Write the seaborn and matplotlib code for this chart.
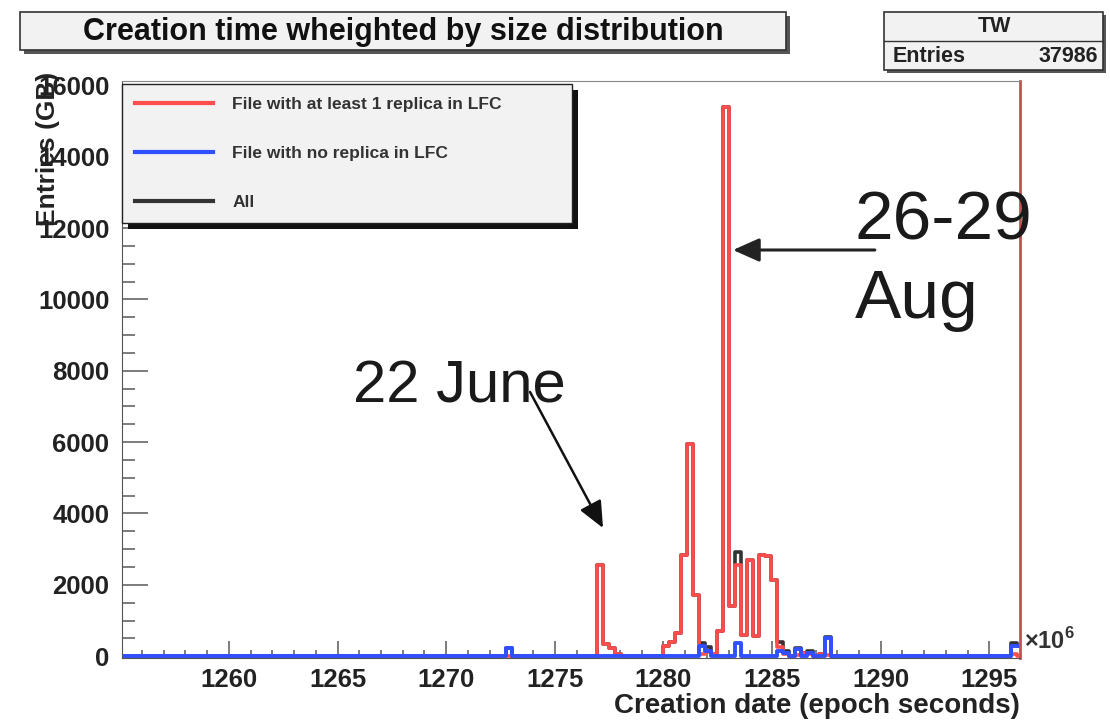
import numpy as np
import pandas as pd
import matplotlib
matplotlib.use('Agg')
import matplotlib.pyplot as plt
import seaborn as sns
from matplotlib.patches import Rectangle
from matplotlib.lines import Line2D

# creation date axis, units of 1e6 epoch seconds, fixed-width bins
x_lo, x_hi = 1255.08, 1296.41
n_bins = 150
bin_width = 0.2765

# size per bin (GB) for files with at least 1 replica in LFC, contiguous from red_start
red_start = 1276.95
red_gb = [2550, 330, 220, 60, 0, 0, 0, 0, 0, 0, 0, 300, 410, 640, 2830, 5960, 1715, 60, 120, 50,
          720, 15400, 1400, 2550, 600, 2700, 560, 2830, 2800, 2150, 250, 60, 0, 40, 80, 50, 0, 60, 40]
red_tail_dates = [1296.16]
red_tail_gb = [60]

# files with no replica in LFC
blue_dates = [1272.94, 1281.79, 1282.07, 1283.45, 1285.38, 1285.66, 1286.21, 1286.77, 1287.60, 1296.16, 1296.44]
blue_gb = [230, 300, 150, 360, 150, 100, 200, 100, 500, 300, 300]

labels = ['File with at least 1 replica in LFC', 'File with no replica in LFC', 'All']
colors = ['#ff4d4d', '#3050ff', '#333333']

red_dates = [red_start + (i + 0.5) * bin_width for i in range(len(red_gb))] + red_tail_dates
red_w = red_gb + red_tail_gb

red = pd.DataFrame({'date': red_dates, 'gb': red_w})
blue = pd.DataFrame({'date': blue_dates, 'gb': blue_gb})
both = pd.concat([red, blue], ignore_index=True)

bin_range = (x_lo, x_lo + n_bins * bin_width)

plt.rcParams['font.family'] = ['Liberation Sans', 'DejaVu Sans']
plt.rcParams['font.weight'] = 'bold'
plt.rcParams['mathtext.fontset'] = 'custom'
plt.rcParams['mathtext.rm'] = 'Liberation Sans:bold'

fig = plt.figure(figsize=(11.1, 7.2), dpi=100)
ax = fig.add_axes([0.1099, 0.0861, 0.8090, 0.8014])

sns.histplot(data=both, x='date', weights='gb', binwidth=bin_width, binrange=bin_range,
             element='step', fill=False, color=colors[2], linewidth=2.6, ax=ax)
sns.histplot(data=red, x='date', weights='gb', binwidth=bin_width, binrange=bin_range,
             element='step', fill=False, color=colors[0], linewidth=2.6, ax=ax)
sns.histplot(data=blue, x='date', weights='gb', binwidth=bin_width, binrange=bin_range,
             element='step', fill=False, color=colors[1], linewidth=2.8, ax=ax)

ax.set_xlim(x_lo, x_hi)
ax.set_ylim(-50, 16120)
ax.set_xlabel('')
ax.set_ylabel('')
ax.set_xticks(range(1260, 1296, 5))
ax.xaxis.set_minor_locator(plt.MultipleLocator(1))
ax.set_yticks(range(0, 16001, 2000))
ax.yaxis.set_minor_locator(plt.MultipleLocator(500))
ax.tick_params(axis='x', which='major', direction='in', length=12, width=1.2, color='#666',
               labelsize=18.5, pad=7)
ax.tick_params(axis='x', which='minor', direction='in', length=6, width=1.2, color='#666')
ax.tick_params(axis='y', which='major', direction='in', length=19, width=1.2, color='#666',
               labelsize=18.5, pad=9)
ax.tick_params(axis='y', which='minor', direction='in', length=9.5, width=1.2, color='#666')
for lbl in ax.get_xticklabels() + ax.get_yticklabels():
    lbl.set_fontweight('bold')
    lbl.set_color('#222')

ax.spines['top'].set_color('#888')
ax.spines['left'].set_color('#555')
ax.spines['right'].set_color('#c45050')
ax.spines['right'].set_linewidth(2)
ax.spines['bottom'].set_color('#555')

fig.text(0.9189, 0.019, 'Creation date (epoch seconds)', ha='right', va='center', fontsize=20,
         color='#222')
fig.text(0.043, 0.90, 'Entries (GB)', rotation=90, ha='center', va='top', fontsize=19, color='#222')
ax.text(1.004, 0.03, r'$\times10^{6}$', transform=ax.transAxes, ha='left', va='center',
        fontsize=17, color='#333')

# annotations
ax.annotate('', xy=(1277.22, 3593), xytext=(1273.86, 7405),
            arrowprops=dict(arrowstyle='-|>,head_length=0.9,head_width=0.4', color='#111',
                            lw=1.8, mutation_scale=18, shrinkA=0, shrinkB=0))
ax.text(1270.59, 7124, '22 June', ha='center', va='baseline', fontsize=43, fontweight='normal',
        color='#1a1a1a')
ax.annotate('', xy=(1283.20, 11384), xytext=(1289.73, 11384),
            arrowprops=dict(arrowstyle='-|>,head_length=0.9,head_width=0.4', color='#222',
                            lw=2.2, mutation_scale=18, shrinkA=0, shrinkB=0))
ax.text(1288.81, 11692, '26-29', ha='left', va='baseline', fontsize=50, fontweight='normal',
        color='#1a1a1a')
ax.text(1288.81, 9478, 'Aug', ha='left', va='baseline', fontsize=50, fontweight='normal',
        color='#1a1a1a')

# legend
handles = [Line2D([], [], color=c, lw=3) for c in colors]
leg = ax.legend(handles, labels, loc='upper left', bbox_to_anchor=(0.0, 0.752, 0.501, 0.243),
                mode='expand', borderaxespad=0, fontsize=12.5, handlelength=4.5, handletextpad=1.1,
                labelspacing=1.95, borderpad=0.75, fancybox=False, facecolor='#f2f2f2',
                edgecolor='#222', framealpha=1)
for t in leg.get_texts():
    t.set_color('#333')
fig.canvas.draw()
bb = leg.get_frame().get_window_extent().transformed(ax.transAxes.inverted())
ax.add_patch(Rectangle((bb.x0 + 6 / 898, bb.y0 - 6 / 577), bb.width, bb.height,
                       transform=ax.transAxes, facecolor='#111', edgecolor='none',
                       zorder=4.9, clip_on=False))


def pix_box(x0, y0, x1, y1, shadow=4):
    W, H = 1110, 720
    fig.add_artist(Rectangle(((x0 + shadow) / W, 1 - (y1 + shadow) / H), (x1 - x0) / W, (y1 - y0) / H,
                             transform=fig.transFigure, facecolor='#555', edgecolor='none'))
    fig.add_artist(Rectangle((x0 / W, 1 - y1 / H), (x1 - x0) / W, (y1 - y0) / H,
                             transform=fig.transFigure, facecolor='#f2f2f2', edgecolor='#333', lw=1.2))


pix_box(20, 12, 786, 50)
fig.text(403 / 1110, 1 - 32 / 720, 'Creation time wheighted by size distribution', ha='center',
         va='center', fontsize=22, color='#111')

pix_box(884, 12, 1103, 70, shadow=3)
fig.add_artist(Line2D([884 / 1110, 1103 / 1110], [1 - 41 / 720, 1 - 41 / 720], transform=fig.transFigure,
                      color='#333', lw=1))
fig.text(994 / 1110, 1 - 27 / 720, 'TW', ha='center', va='center', fontsize=15.5, color='#222')
fig.text(893 / 1110, 1 - 56 / 720, 'Entries', ha='left', va='center', fontsize=15.5, color='#222')
fig.text(1098 / 1110, 1 - 56 / 720, '37986', ha='right', va='center', fontsize=15.5, color='#222')

fig.savefig('out.png', dpi=100, facecolor='white')
